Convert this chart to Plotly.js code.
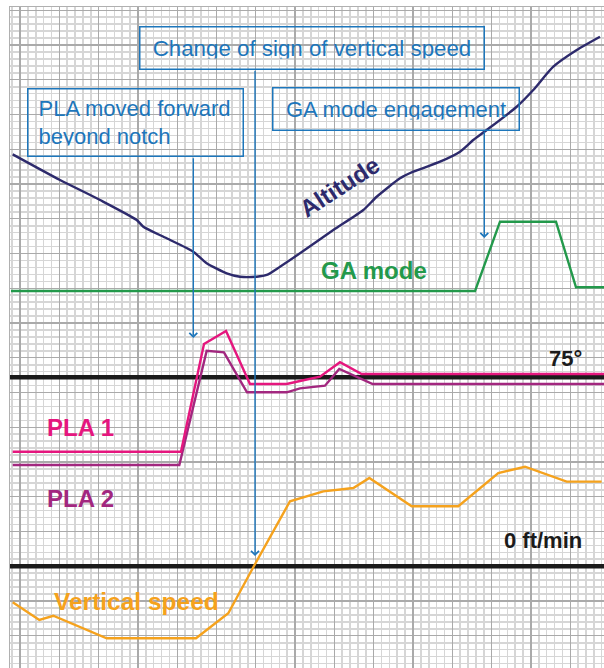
<!DOCTYPE html>
<html>
<head>
<meta charset="utf-8">
<script src="https://cdn.plot.ly/plotly-3.0.1.min.js"></script>
<style>html,body{margin:0;padding:0;background:#fff;}#chart{width:604px;height:668px;}</style>
</head>
<body>
<div id="chart"></div>
<script>
// Time axis in grid units (1 minor grid division each)
const altTime = [-0.93, 5.09, 10.18, 14.85, 15.69, 18.66, 22.05, 23.75, 26.30, 27.99, 30.12, 31.39, 33.08, 35.62, 39.86, 43.68, 45.38, 48.35, 50.04, 53.44, 55.98, 57.67, 59.38, 63.19, 65.30, 67.85, 70.83, 73.79];
const altitude = [59.27, 55.58, 52.70, 49.82, 48.86, 47.19, 45.26, 43.59, 42.15, 41.66, 41.66, 41.91, 43.10, 45.03, 48.38, 51.26, 53.17, 55.82, 56.77, 58.21, 59.65, 61.33, 62.77, 66.12, 68.53, 71.88, 74.28, 76.19];

const gaTime = [-1.15, 57.89, 61.07, 68.19, 70.74, 74.3];
const gaMode = [39.6, 39.6, 49.58, 49.58, 40.14, 40.14];

const pla1Time = [-0.93, 20.48, 23.41, 26.21, 29.26, 33.93, 35.62, 38.17, 40.71, 43.47, 74.3];
const pla1 = [16.48, 16.48, 31.98, 33.85, 26.22, 26.22, 26.65, 27.27, 29.35, 27.66, 27.66];

const pla2Time = [-0.93, 20.27, 23.75, 25.95, 28.88, 33.93, 35.62, 38.80, 40.62, 44.87, 74.3];
const pla2 = [14.57, 14.57, 31.01, 30.78, 25.03, 25.03, 25.60, 25.98, 28.38, 26.22, 26.22];

const vsTime = [-0.93, 2.46, 4.24, 11.03, 22.39, 26.50, 29.68, 34.35, 38.59, 42.41, 44.44, 49.83, 55.76, 60.85, 64.25, 69.55, 74.0];
const vertSpeed = [-5.19, -7.73, -7.12, -10.37, -10.37, -6.77, -0.15, 9.35, 10.78, 11.26, 12.70, 8.63, 8.63, 13.42, 14.32, 12.17, 12.17];

const refLevels = [27.19, 0.0]; // 75° PLA line, 0 ft/min line
const refLabels = ['75°', '0 ft/min'];

const seriesNames = ['Altitude', 'GA mode', 'PLA 1', 'PLA 2', 'Vertical speed'];
const noteTexts = ['PLA moved forward<br>beyond notch', 'Change of sign of vertical speed', 'GA mode engagement'];

const X0 = -1.2723, X1 = 74.30, Y0 = -14.64, Y1 = 80.47;

const colors = {
  alt: '#2d2a6c', ga: '#23994b', pla1: '#e5167e', pla2: '#a2277f', vs: '#f5a21d', blue: '#1d76bb', black: '#1b1b1b'
};

const traces = [];
refLevels.forEach(v => {
  traces.push({x: [X0, X1], y: [v, v], mode: 'lines', line: {color: colors.black, width: 4.5}, hoverinfo: 'skip', showlegend: false});
});
traces.push({x: altTime, y: altitude, mode: 'lines', name: seriesNames[0], line: {color: colors.alt, width: 2.4, shape: 'spline', smoothing: 0.6}});
traces.push({x: gaTime, y: gaMode, mode: 'lines', name: seriesNames[1], line: {color: colors.ga, width: 2.4}});
traces.push({x: pla2Time, y: pla2, mode: 'lines', name: seriesNames[3], line: {color: colors.pla2, width: 2.4}});
traces.push({x: pla1Time, y: pla1, mode: 'lines', name: seriesNames[2], line: {color: colors.pla1, width: 2.4}});
traces.push({x: vsTime, y: vertSpeed, mode: 'lines', name: seriesNames[4], line: {color: colors.vs, width: 2.4}});

const bold = (c, s) => ({family: 'Liberation Sans, Arial, sans-serif', size: s, color: c, weight: 700});
const reg = (s) => ({family: 'Liberation Sans, Arial, sans-serif', size: s, color: colors.blue});
const annotations = [
  // series labels
  {x: 40.71, y: 54.6, text: '<b>' + seriesNames[0] + '</b>', textangle: -33, font: bold(colors.alt, 24), showarrow: false},
  {x: 38.0, y: 42.55, text: '<b>' + seriesNames[1] + '</b>', xanchor: 'left', font: bold(colors.ga, 24), showarrow: false},
  {x: 3.2, y: 19.96, text: '<b>' + seriesNames[2] + '</b>', xanchor: 'left', font: bold(colors.pla1, 24), showarrow: false},
  {x: 3.2, y: 9.68, text: '<b>' + seriesNames[3] + '</b>', xanchor: 'left', font: bold(colors.pla2, 24), showarrow: false},
  {x: 4.1, y: -5.0, text: '<b>' + seriesNames[4] + '</b>', xanchor: 'left', font: bold(colors.vs, 24.5), showarrow: false},
  {x: 71.76, y: 29.96, text: '<b>' + refLabels[0] + '</b>', xanchor: 'right', font: bold(colors.black, 22), showarrow: false},
  {x: 71.76, y: 3.68, text: '<b>' + refLabels[1] + '</b>', xanchor: 'right', font: bold(colors.black, 22), showarrow: false},
  // note boxes
  {x: 14.69, y: 63.78, text: noteTexts[0], align: 'left', width: 194, height: 46, borderpad: 10, bordercolor: colors.blue, borderwidth: 1.5,
   font: reg(22), showarrow: false},
  {x: 37.17, y: 74.52, text: noteTexts[1], align: 'center', width: 323, height: 21, borderpad: 10, bordercolor: colors.blue, borderwidth: 1.5,
   font: reg(22.3), showarrow: false},
  {x: 47.82, y: 65.76, text: noteTexts[2], align: 'center', width: 225, height: 21, borderpad: 10, bordercolor: colors.blue, borderwidth: 1.5,
   font: reg(22), showarrow: false},
  // pointers
  {x: 22.05, y: 32.84, ax: 22.05, ay: 58.93, axref: 'x', ayref: 'y', text: '', showarrow: true, arrowhead: 4, arrowsize: 1.1, arrowwidth: 1.4, arrowcolor: colors.blue, standoff: 0},
  {x: 29.90, y: 1.47, ax: 29.90, ay: 71.5, axref: 'x', ayref: 'y', text: '', showarrow: true, arrowhead: 4, arrowsize: 1.1, arrowwidth: 1.4, arrowcolor: colors.blue, standoff: 0},
  {x: 59.07, y: 47.23, ax: 59.07, ay: 62.77, axref: 'x', ayref: 'y', text: '', showarrow: true, arrowhead: 4, arrowsize: 1.1, arrowwidth: 1.4, arrowcolor: colors.blue, standoff: 0}
];

const gridAxis = {
  tickmode: 'linear', tick0: 0, dtick: 5, showticklabels: false, ticks: '', zeroline: false,
  showgrid: true, gridcolor: '#aaaaaa', gridwidth: 1.3,
  minor: {tickmode: 'linear', tick0: 0, dtick: 1, showgrid: true, gridcolor: '#d6d6d6', gridwidth: 1.6, ticks: ''},
  fixedrange: true
};

const layout = {
  width: 604, height: 668,
  margin: {l: 10, r: 0, t: 7, b: 0, pad: 0},
  paper_bgcolor: '#ffffff', plot_bgcolor: '#ffffff',
  showlegend: false,
  xaxis: Object.assign({}, gridAxis, {range: [X0, X1], side: 'top', showline: true, linecolor: '#b0b0b0', linewidth: 1.5}),
  yaxis: Object.assign({}, gridAxis, {range: [Y0, Y1], showline: true, linecolor: '#b0b0b0', linewidth: 1.5}),
  annotations: annotations
};

Plotly.newPlot('chart', traces, layout, {staticPlot: true, displayModeBar: false});
</script>
</body>
</html>
